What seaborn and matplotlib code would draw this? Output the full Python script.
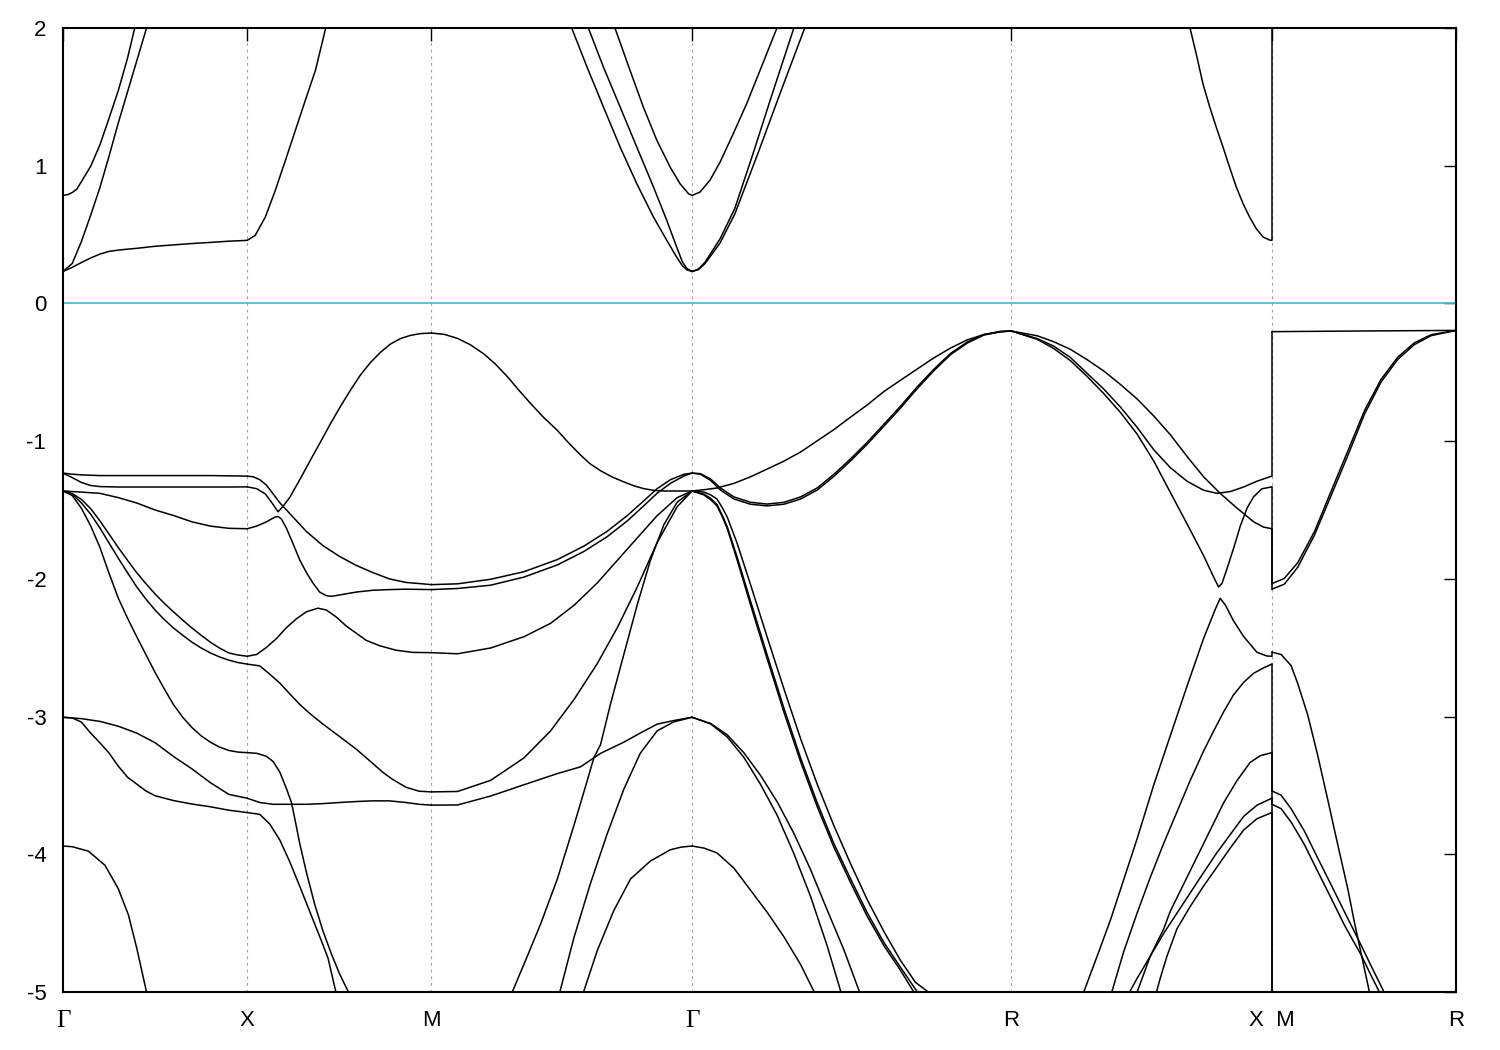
import numpy as np
import pandas as pd
import matplotlib
matplotlib.use("Agg")
import matplotlib.pyplot as plt
import seaborn as sns

# ---------------- high-symmetry path ----------------
KPT_LABELS = ["Γ", "X", "M", "Γ", "R", "X  M", "R"]
KPT_POS = [0.0, 0.5, 1.0, 1.70711, 2.57313, 3.28024, 3.78024]
SEG_BOUNDS = [(0.0, 0.5), (0.5, 1.0), (1.0, 1.70711),
              (1.70711, 2.57313), (2.57313, 3.28024), (3.28024, 3.78024)]
Y_TICKS = [-5, -4, -3, -2, -1, 0, 1, 2]

# ---------------- segment 0 : Gamma - X ----------------
GX_T11 = [0.0, 0.1, 0.2, 0.3, 0.4, 0.5, 0.6, 0.7, 0.8, 0.9, 1.0]
GX_T21 = [0.0, 0.05, 0.1, 0.15, 0.2, 0.25, 0.3, 0.35, 0.4, 0.45, 0.5,
          0.55, 0.6, 0.65, 0.7, 0.75, 0.8, 0.85, 0.9, 0.95, 1.0]
GX_C1_T = [0, 0.025, 0.05, 0.075, 0.1, 0.15, 0.2, 0.25, 0.3, 0.35, 0.4]
GX_C1_E = [0.785, 0.79, 0.805, 0.83, 0.885, 0.995, 1.15, 1.345, 1.545, 1.78, 2.06]
GX_C2_T = [0, 0.05, 0.1, 0.15, 0.2, 0.25, 0.3, 0.35, 0.4, 0.45, 0.5]
GX_C2_E = [0.232, 0.29, 0.45, 0.64, 0.84, 1.07, 1.31, 1.535, 1.76, 1.985, 2.21]
GX_C3_T = [0, 0.05, 0.1, 0.15, 0.2, 0.25, 0.3, 0.35, 0.4, 0.5, 0.6, 0.7, 0.8, 0.9, 1.0]
GX_C3_E = [0.232, 0.262, 0.297, 0.33, 0.358, 0.378, 0.387, 0.394, 0.40, 0.415, 0.425, 0.435, 0.443, 0.452, 0.458]
GX_VA_T = [0, 0.05, 0.1, 0.2, 0.3, 0.4, 0.5, 0.6, 0.7, 0.8, 0.9, 1.0]
GX_VA_E = [-1.232, -1.24, -1.245, -1.25, -1.25, -1.25, -1.25, -1.25, -1.25, -1.25, -1.252, -1.254]
GX_VB_T = [0, 0.05, 0.1, 0.15, 0.2, 0.3, 0.4, 0.5, 0.6, 0.7, 0.8, 0.9, 1.0]
GX_VB_E = [-1.232, -1.265, -1.30, -1.322, -1.33, -1.333, -1.333, -1.333, -1.333, -1.333, -1.333, -1.333, -1.332]
GX_VC_E = [-1.362, -1.37, -1.379, -1.41, -1.449, -1.50, -1.54, -1.586, -1.617, -1.633, -1.636]
GX_VD_E = [-1.362, -1.38, -1.423, -1.49, -1.578, -1.675, -1.773, -1.865, -1.955, -2.035, -2.11,
           -2.178, -2.24, -2.3, -2.357, -2.41, -2.46, -2.503, -2.538, -2.553, -2.562]
GX_VE_E = [-1.362, -1.385, -1.449, -1.53, -1.63, -1.74, -1.85, -1.955, -2.058, -2.147, -2.227,
           -2.296, -2.357, -2.41, -2.46, -2.502, -2.538, -2.567, -2.59, -2.608, -2.619]
GX_VF_E = [-1.362, -1.395, -1.488, -1.615, -1.77, -1.96, -2.14, -2.285, -2.42, -2.55, -2.68,
           -2.8, -2.914, -3.005, -3.08, -3.14, -3.186, -3.222, -3.246, -3.258, -3.262]
GX_VG_E = [-3.005, -3.015, -3.035, -3.07, -3.12, -3.19, -3.29, -3.38, -3.48, -3.565, -3.593]
GX_VH_T = [0, 0.05, 0.1, 0.15, 0.2, 0.25, 0.3, 0.35, 0.4, 0.45, 0.5, 0.6, 0.7, 0.8, 0.9, 1.0]
GX_VH_E = [-3.005, -3.01, -3.04, -3.12, -3.19, -3.265, -3.36, -3.44, -3.49, -3.54, -3.575, -3.61, -3.635, -3.655, -3.68, -3.697]
GX_VI_T = [0, 0.05, 0.1375, 0.228, 0.3, 0.355, 0.4, 0.455, 0.47]
GX_VI_E = [-3.94, -3.945, -3.977, -4.08, -4.25, -4.44, -4.68, -5.01, -5.1]

# ---------------- segment 1 : X - M ----------------
XM_C1_T = [0, 0.043, 0.098, 0.152, 0.207, 0.261, 0.315, 0.37, 0.424, 0.5]
XM_C1_E = [0.458, 0.494, 0.627, 0.82, 1.038, 1.256, 1.474, 1.692, 1.99, 2.4]
XM_B_T = [0, 0.051, 0.099, 0.141, 0.167, 0.194, 0.23, 0.285, 0.342, 0.402, 0.451, 0.505, 0.56,
          0.614, 0.668, 0.723, 0.777, 0.832, 0.886, 0.94, 1.0]
XM_B_E = [-1.332, -1.345, -1.384, -1.461, -1.513, -1.474, -1.41, -1.28, -1.14, -0.995, -0.875, -0.75, -0.63,
          -0.52, -0.43, -0.355, -0.295, -0.255, -0.232, -0.219, -0.215]
XM_A_T = [0, 0.033, 0.068, 0.104, 0.141, 0.177, 0.204, 0.249, 0.321, 0.411, 0.501, 0.591, 0.681, 0.771, 0.861, 0.951, 1.0]
XM_A_E = [-1.254, -1.259, -1.28, -1.319, -1.384, -1.448, -1.487, -1.552, -1.656, -1.759, -1.837, -1.902, -1.954, -2.0, -2.026, -2.036, -2.042]
XM_C_T = [0, 0.051, 0.104, 0.149, 0.167, 0.185, 0.212, 0.249, 0.285, 0.321, 0.357, 0.393, 0.429, 0.457, 0.501, 0.591, 0.681, 0.771, 0.861, 1.0]
XM_C_E = [-1.636, -1.617, -1.586, -1.552, -1.547, -1.565, -1.63, -1.746, -1.863, -1.954, -2.031, -2.096, -2.122, -2.127, -2.117, -2.096, -2.083, -2.078, -2.075, -2.078]
XM_D_T = [0, 0.051, 0.104, 0.159, 0.212, 0.267, 0.321, 0.384, 0.429, 0.483, 0.537, 0.591, 0.645, 0.717, 0.807, 0.897, 1.0]
XM_D_E = [-2.562, -2.549, -2.498, -2.433, -2.355, -2.29, -2.239, -2.213, -2.226, -2.277, -2.342, -2.394, -2.446, -2.485, -2.518, -2.534, -2.536]
XM_E_T = [0, 0.068, 0.122, 0.177, 0.23, 0.285, 0.339, 0.411, 0.501, 0.591, 0.681, 0.735, 0.789, 0.861, 0.933, 1.0]
XM_E_E = [-2.619, -2.632, -2.692, -2.757, -2.834, -2.912, -2.977, -3.055, -3.145, -3.236, -3.34, -3.404, -3.456, -3.513, -3.542, -3.547]
XM_F_T = [0, 0.051, 0.104, 0.141, 0.177, 0.212, 0.24, 0.258, 0.285, 0.321, 0.366, 0.411, 0.457, 0.501, 0.551, 0.592]
XM_F_E = [-3.262, -3.267, -3.288, -3.327, -3.404, -3.521, -3.624, -3.741, -3.922, -4.13, -4.363, -4.557, -4.725, -4.868, -5.005, -5.2]
XM_G_T = [0, 0.068, 0.141, 0.24, 0.321, 0.411, 0.501, 0.591, 0.681, 0.771, 0.861, 0.933, 1.0]
XM_G_E = [-3.593, -3.624, -3.637, -3.637, -3.637, -3.632, -3.624, -3.617, -3.612, -3.612, -3.624, -3.637, -3.643]
XM_H_T = [0, 0.068, 0.122, 0.177, 0.23, 0.285, 0.339, 0.393, 0.438, 0.482, 0.533]
XM_H_E = [-3.697, -3.71, -3.78, -3.897, -4.052, -4.233, -4.415, -4.596, -4.752, -5.005, -5.3]

# ---------------- segment 2 : M - Gamma ----------------
MG_T_T = [0, 0.05, 0.1, 0.149, 0.202, 0.245, 0.291, 0.333, 0.38, 0.429, 0.483, 0.525, 0.572,
          0.609, 0.649, 0.693, 0.738, 0.778, 0.815, 0.851, 0.892, 1.0]
MG_T_E = [-0.215, -0.225, -0.254, -0.3, -0.368, -0.44, -0.531, -0.625, -0.726, -0.825, -0.922, -1.01, -1.101,
          -1.165, -1.215, -1.26, -1.296, -1.325, -1.345, -1.357, -1.362, -1.362]
MG_P_T = [0, 0.1, 0.227, 0.355, 0.483, 0.585, 0.674, 0.751, 0.815, 0.866, 0.917, 0.968, 1.0]
MG_P1_E = [-2.042, -2.036, -2.003, -1.948, -1.86, -1.762, -1.655, -1.541, -1.433, -1.345, -1.28, -1.241, -1.232]
MG_P2_E = [-2.078, -2.07, -2.046, -1.987, -1.899, -1.801, -1.694, -1.58, -1.469, -1.378, -1.306, -1.254, -1.232]
MG_Q_T = [0, 0.1, 0.227, 0.355, 0.457, 0.547, 0.636, 0.713, 0.789, 0.866, 0.943, 1.0]
MG_Q_E = [-2.536, -2.544, -2.502, -2.42, -2.323, -2.192, -2.03, -1.866, -1.704, -1.541, -1.41, -1.362]
MG_R1_E = [-3.547, -3.544, -3.463, -3.3, -3.104, -2.876, -2.616, -2.355, -2.062, -1.736, -1.476, -1.362]
MG_R2_T = [0, 0.1, 0.227, 0.355, 0.483, 0.572, 0.623, 0.649, 0.687, 0.738, 0.789, 0.84, 0.892, 0.943, 1.0]
MG_R2_E = [-3.643, -3.642, -3.577, -3.495, -3.414, -3.365, -3.3, -3.202, -2.909, -2.55, -2.192, -1.866, -1.606, -1.443, -1.362]
MG_S1_T = [0.284, 0.304, 0.355, 0.419, 0.483, 0.547, 0.598, 0.623, 0.649, 0.738, 0.801, 0.866, 0.929, 1.0]
MG_S1_E = [-5.2, -5.026, -4.798, -4.505, -4.179, -3.788, -3.463, -3.3, -3.267, -3.186, -3.12, -3.055, -3.029, -3.005]
MG_S2_T = [0.475, 0.489, 0.547, 0.61, 0.674, 0.738, 0.801, 0.866, 0.929, 1.0]
MG_S2_E = [-5.15, -5.026, -4.603, -4.212, -3.853, -3.528, -3.267, -3.104, -3.039, -3.005]
MG_S3_T = [0.563, 0.579, 0.636, 0.7, 0.764, 0.84, 0.917, 0.958, 1.0]
MG_S3_E = [-5.15, -5.026, -4.7, -4.407, -4.179, -4.049, -3.967, -3.948, -3.94]
MG_C1_T = [0.494, 0.539, 0.597, 0.66, 0.724, 0.788, 0.852, 0.903, 0.941, 0.963, 0.98, 1.0]
MG_C1_E = [2.25, 1.995, 1.716, 1.426, 1.135, 0.869, 0.627, 0.458, 0.336, 0.273, 0.244, 0.232]
MG_C2_T = [0.559, 0.603, 0.66, 0.724, 0.788, 0.852, 0.903, 0.941, 0.963, 0.98, 1.0]
MG_C2_E = [2.25, 1.995, 1.716, 1.426, 1.135, 0.845, 0.603, 0.409, 0.301, 0.254, 0.232]
MG_C3_T = [0.667, 0.705, 0.762, 0.813, 0.865, 0.916, 0.954, 0.986, 1.0]
MG_C3_E = [2.25, 1.995, 1.692, 1.426, 1.184, 0.99, 0.869, 0.797, 0.784]

# ---------------- segment 3 : Gamma - R ----------------
GR_C3_T = [0, 0.025, 0.056, 0.088, 0.129, 0.171, 0.213, 0.265, 0.294]
GR_C3_E = [0.784, 0.809, 0.894, 1.027, 1.232, 1.45, 1.692, 1.995, 2.2]
GR_C2_T = [0, 0.02, 0.041, 0.088, 0.134, 0.191, 0.244, 0.319, 0.338]
GR_C2_E = [0.232, 0.25, 0.3, 0.47, 0.69, 1.087, 1.47, 2.0, 2.13]
GR_C1_T = [0, 0.02, 0.041, 0.088, 0.134, 0.206, 0.275, 0.353, 0.375]
GR_C1_E = [0.232, 0.245, 0.29, 0.44, 0.65, 1.087, 1.52, 2.0, 2.14]
GR_T_T = [0, 0.037, 0.078, 0.131, 0.183, 0.235, 0.288, 0.34, 0.392, 0.444, 0.497, 0.549, 0.601, 0.653, 0.705, 0.758, 0.81, 0.862, 0.914, 0.966, 1.0]
GR_T_E = [-1.362, -1.353, -1.34, -1.307, -1.259, -1.203, -1.145, -1.079, -0.998, -0.917, -0.825, -0.737, -0.64, -0.558, -0.477, -0.395, -0.324, -0.265, -0.226, -0.207, -0.2]
GR_PP_T = [0, 0.026, 0.058, 0.089, 0.131, 0.183, 0.235, 0.288, 0.34, 0.392, 0.444, 0.497, 0.549, 0.601, 0.653, 0.705, 0.758, 0.81, 0.862, 0.914, 0.966, 1.0]
GR_PP1_E = [-1.232, -1.236, -1.275, -1.34, -1.405, -1.444, -1.457, -1.444, -1.405, -1.34, -1.242, -1.128, -1.008, -0.878, -0.747, -0.607, -0.477, -0.363, -0.281, -0.226, -0.203, -0.2]
GR_PP2_E = [-1.232, -1.24, -1.285, -1.355, -1.42, -1.458, -1.47, -1.458, -1.42, -1.355, -1.257, -1.143, -1.022, -0.892, -0.76, -0.62, -0.488, -0.372, -0.288, -0.23, -0.205, -0.2]
GR_B_T = [0, 0.037, 0.058, 0.078, 0.094, 0.11, 0.141, 0.183, 0.235, 0.288, 0.34, 0.392, 0.444, 0.497, 0.549, 0.601, 0.653, 0.7]
GR_B3_E = [-1.362, -1.39, -1.425, -1.47, -1.545, -1.633, -1.861, -2.187, -2.578, -2.969, -3.327, -3.653, -3.946, -4.207, -4.451, -4.663, -4.842, -5.02]
GR_B2_T = GR_B_T + [0.72]
GR_B2_E = [-1.362, -1.385, -1.415, -1.46, -1.535, -1.62, -1.84, -2.16, -2.55, -2.94, -3.30, -3.625, -3.92, -4.18, -4.425, -4.64, -4.82, -4.98, -5.05]
GR_B1_T = GR_B_T + [0.74, 0.75]
GR_B1_E = [-1.362, -1.37, -1.39, -1.42, -1.48, -1.55, -1.74, -2.04, -2.42, -2.80, -3.16, -3.49, -3.79, -4.07, -4.33, -4.56, -4.77, -4.93, -5.0, -5.05]
GR_G_T = [0, 0.058, 0.11, 0.162, 0.214, 0.267, 0.319, 0.371, 0.423, 0.476, 0.528]
GR_G1_E = [-3.005, -3.05, -3.132, -3.262, -3.425, -3.62, -3.848, -4.109, -4.402, -4.695, -5.02]
GR_G2_T = [0, 0.058, 0.11, 0.162, 0.214, 0.267, 0.319, 0.371, 0.423, 0.469]
GR_G2_E = [-3.005, -3.053, -3.148, -3.295, -3.49, -3.718, -3.995, -4.304, -4.662, -5.02]
GR_S3_T = [0, 0.0375, 0.078, 0.131, 0.183, 0.235, 0.288, 0.34, 0.387]
GR_S3_E = [-3.94, -3.955, -3.99, -4.1, -4.26, -4.42, -4.6, -4.8, -5.02]

# ---------------- segment 4 : R - X ----------------
RX_C1_T = [0.669, 0.687, 0.71, 0.736, 0.762, 0.787, 0.813, 0.838, 0.864, 0.89, 0.915, 0.941, 0.967, 0.992, 1.0]
RX_C1_E = [2.15, 1.995, 1.813, 1.595, 1.426, 1.28, 1.135, 0.99, 0.845, 0.724, 0.627, 0.542, 0.482, 0.46, 0.458]
RX_RA_T = [0, 0.1, 0.163, 0.227, 0.291, 0.355, 0.419, 0.483, 0.547, 0.611, 0.675, 0.738, 0.802, 0.867, 0.93, 0.968, 1.0]
RX_RA_E = [-0.2, -0.235, -0.278, -0.333, -0.408, -0.49, -0.588, -0.693, -0.817, -0.954, -1.111, -1.258, -1.379, -1.487, -1.585, -1.624, -1.636]
RX_RB_T = [0, 0.1, 0.163, 0.227, 0.291, 0.355, 0.419, 0.483, 0.547, 0.611, 0.675, 0.738, 0.79, 0.841, 0.892, 0.943, 1.0]
RX_RB_E = [-0.2, -0.255, -0.31, -0.392, -0.507, -0.621, -0.752, -0.899, -1.062, -1.193, -1.291, -1.356, -1.379, -1.366, -1.333, -1.291, -1.254]
RX_RC_T = [0, 0.1, 0.163, 0.227, 0.291, 0.355, 0.419, 0.483, 0.547, 0.611, 0.675, 0.738, 0.777, 0.796, 0.809, 0.828, 0.853, 0.879, 0.905, 0.93, 0.962, 1.0]
RX_RC_E = [-0.2, -0.261, -0.327, -0.415, -0.529, -0.654, -0.791, -0.948, -1.144, -1.373, -1.601, -1.83, -1.987, -2.059, -2.033, -1.928, -1.781, -1.618, -1.487, -1.405, -1.346, -1.332]
RX_IV_T = [0.257, 0.272, 0.33, 0.381, 0.432, 0.483, 0.547, 0.611, 0.675, 0.738, 0.783, 0.802, 0.822, 0.853, 0.892, 0.943, 0.981, 1.0]
RX_IV_E = [-5.15, -5.033, -4.739, -4.477, -4.183, -3.889, -3.497, -3.137, -2.778, -2.435, -2.222, -2.141, -2.19, -2.304, -2.418, -2.533, -2.56, -2.562]
RX_XA_T = [0.365, 0.381, 0.432, 0.483, 0.534, 0.585, 0.636, 0.687, 0.738, 0.777, 0.815, 0.853, 0.892, 0.93, 0.968, 1.0]
RX_XA_E = [-5.15, -5.033, -4.706, -4.428, -4.167, -3.922, -3.693, -3.464, -3.252, -3.105, -2.967, -2.843, -2.752, -2.686, -2.647, -2.619]
RX_XB_T = [0.462, 0.477, 0.534, 0.585, 0.611, 0.662, 0.713, 0.764, 0.815, 0.867, 0.917, 0.956, 1.0]
RX_XB_E = [-5.15, -5.033, -4.739, -4.543, -4.412, -4.216, -4.02, -3.824, -3.627, -3.464, -3.333, -3.284, -3.262]
RX_XC_T = [0.431, 0.445, 0.483, 0.534, 0.585, 0.636, 0.687, 0.738, 0.79, 0.841, 0.892, 0.943, 1.0]
RX_XC_E = [-5.15, -5.033, -4.902, -4.739, -4.575, -4.428, -4.281, -4.134, -3.987, -3.856, -3.725, -3.644, -3.593]
RX_XD_T = [0.538, 0.553, 0.572, 0.598, 0.636, 0.687, 0.738, 0.79, 0.841, 0.892, 0.943, 1.0]
RX_XD_E = [-5.15, -5.033, -4.9, -4.739, -4.542, -4.379, -4.232, -4.092, -3.954, -3.824, -3.742, -3.697]

# ---------------- segment 5 : M - R ----------------
MR_TOP_T = [0, 0.5, 1.0]
MR_TOP_E = [-0.205, -0.2, -0.196]
MR_U_T = [0, 0.068, 0.141, 0.232, 0.322, 0.413, 0.503, 0.593, 0.684, 0.774, 0.865, 1.0]
MR_U1_E = [-2.035, -1.997, -1.883, -1.656, -1.364, -1.071, -0.779, -0.552, -0.39, -0.286, -0.227, -0.196]
MR_U2_E = [-2.075, -2.039, -1.916, -1.682, -1.396, -1.104, -0.805, -0.571, -0.406, -0.299, -0.234, -0.196]
MR_D1_T = [0, 0.051, 0.105, 0.141, 0.195, 0.249, 0.304, 0.358, 0.413, 0.448, 0.485, 0.522, 0.538]
MR_D1_E = [-2.532, -2.549, -2.63, -2.76, -2.987, -3.279, -3.604, -3.929, -4.253, -4.49, -4.72, -4.95, -5.05]
MR_L1_T = [0, 0.051, 0.105, 0.177, 0.249, 0.322, 0.394, 0.448, 0.485, 0.539, 0.602, 0.62]
MR_L1_E = [-3.539, -3.571, -3.669, -3.831, -4.026, -4.221, -4.416, -4.56, -4.66, -4.81, -4.98, -5.03]
MR_L2_T = [0, 0.051, 0.105, 0.177, 0.249, 0.322, 0.394, 0.448, 0.485, 0.539, 0.584, 0.6]
MR_L2_E = [-3.636, -3.669, -3.766, -3.929, -4.123, -4.318, -4.513, -4.643, -4.73, -4.88, -5.0, -5.05]

# band values on both sides of the X|M break (joined by the plotting program)
XM_BREAK_X_SIDE = [0.458, -1.254, -1.332, -1.636, -2.562, -2.619, -3.262, -3.593, -3.697]
XM_BREAK_M_SIDE = [2.6, -0.205, -2.035, -2.075, -2.532, -3.539, -3.636, -5.5, -5.5]

CURVES = [
    (0, GX_C1_T, GX_C1_E), (0, GX_C2_T, GX_C2_E), (0, GX_C3_T, GX_C3_E),
    (0, GX_VA_T, GX_VA_E), (0, GX_VB_T, GX_VB_E), (0, GX_T11, GX_VC_E), (0, GX_T21, GX_VD_E),
    (0, GX_T21, GX_VE_E), (0, GX_T21, GX_VF_E), (0, GX_T11, GX_VG_E), (0, GX_VH_T, GX_VH_E),
    (0, GX_VI_T, GX_VI_E),
    (1, XM_C1_T, XM_C1_E), (1, XM_B_T, XM_B_E), (1, XM_A_T, XM_A_E), (1, XM_C_T, XM_C_E),
    (1, XM_D_T, XM_D_E), (1, XM_E_T, XM_E_E), (1, XM_F_T, XM_F_E), (1, XM_G_T, XM_G_E),
    (1, XM_H_T, XM_H_E),
    (2, MG_T_T, MG_T_E), (2, MG_P_T, MG_P1_E), (2, MG_P_T, MG_P2_E), (2, MG_Q_T, MG_Q_E),
    (2, MG_Q_T, MG_R1_E), (2, MG_R2_T, MG_R2_E), (2, MG_S1_T, MG_S1_E), (2, MG_S2_T, MG_S2_E),
    (2, MG_S3_T, MG_S3_E), (2, MG_C1_T, MG_C1_E), (2, MG_C2_T, MG_C2_E), (2, MG_C3_T, MG_C3_E),
    (3, GR_C3_T, GR_C3_E), (3, GR_C2_T, GR_C2_E), (3, GR_C1_T, GR_C1_E), (3, GR_T_T, GR_T_E),
    (3, GR_PP_T, GR_PP1_E), (3, GR_PP_T, GR_PP2_E), (3, GR_B_T, GR_B3_E), (3, GR_B2_T, GR_B2_E),
    (3, GR_B1_T, GR_B1_E), (3, GR_G_T, GR_G1_E), (3, GR_G2_T, GR_G2_E), (3, GR_S3_T, GR_S3_E),
    (4, RX_C1_T, RX_C1_E), (4, RX_RA_T, RX_RA_E), (4, RX_RB_T, RX_RB_E), (4, RX_RC_T, RX_RC_E),
    (4, RX_IV_T, RX_IV_E), (4, RX_XA_T, RX_XA_E), (4, RX_XB_T, RX_XB_E), (4, RX_XC_T, RX_XC_E),
    (4, RX_XD_T, RX_XD_E),
    (5, MR_TOP_T, MR_TOP_E), (5, MR_U_T, MR_U1_E), (5, MR_U_T, MR_U2_E), (5, MR_D1_T, MR_D1_E),
    (5, MR_L1_T, MR_L1_E), (5, MR_L2_T, MR_L2_E),
]

# ---------------- build long table ----------------
rows = []
for cid, (seg, ts, es) in enumerate(CURVES):
    a, b = SEG_BOUNDS[seg]
    for t, e in zip(ts, es):
        rows.append((cid, a + t * (b - a), e))
kbreak = SEG_BOUNDS[4][1]
for j, (ex, em) in enumerate(zip(XM_BREAK_X_SIDE, XM_BREAK_M_SIDE)):
    cid = 1000 + j
    rows.append((cid, kbreak, ex))
    rows.append((cid, kbreak, em))
df = pd.DataFrame(rows, columns=["curve", "k", "E"])

# ---------------- draw ----------------
sns.set_style("white")
plt.rcParams["font.family"] = ["Liberation Sans", "DejaVu Sans"]

W, H = 1500, 1050
fig = plt.figure(figsize=(W / 100, H / 100), dpi=100)
ax = fig.add_axes([63 / W, 58 / H, (1456 - 63) / W, (992 - 28) / H])

for kx in KPT_POS[1:-1]:
    ax.axvline(kx, color="#a0a0a0", lw=0.8, ls=(0, (2.5, 3.5)), zorder=0)
ax.axhline(0.0, color="#56b4e9", lw=1.3, zorder=1)

sns.lineplot(data=df, x="k", y="E", units="curve", estimator=None, sort=False,
             color="black", linewidth=1.1, ax=ax, legend=False, zorder=2)

ax.set_xlim(KPT_POS[0], KPT_POS[-1])
ax.set_ylim(-5, 2)
ax.set_xlabel("")
ax.set_ylabel("")
ax.set_xticks(KPT_POS)
ax.set_xticklabels(KPT_LABELS)
ax.set_yticks(Y_TICKS)
ax.set_yticklabels([str(v) for v in Y_TICKS])
ax.tick_params(axis="both", direction="in", length=9, width=1.0, top=True, right=True,
               labelsize=16, colors="black")
ax.tick_params(axis="x", pad=13)
ax.tick_params(axis="y", pad=12)
for lab in ax.get_xticklabels():
    if "Γ" in lab.get_text():
        lab.set_fontfamily(["Liberation Serif", "DejaVu Serif"])
        lab.set_fontsize(18)
for sp in ax.spines.values():
    sp.set_linewidth(1.5)
    sp.set_color("black")

fig.savefig("out.png", dpi=100, facecolor="white")
